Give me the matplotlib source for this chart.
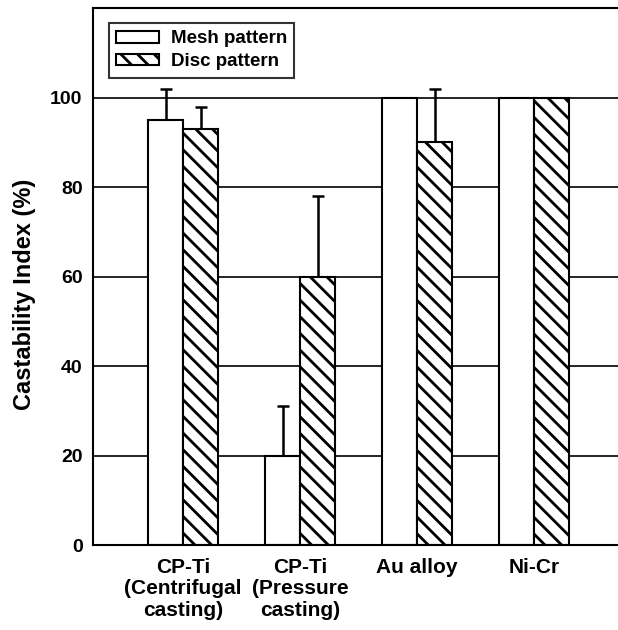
import numpy as np
import matplotlib.pyplot as plt

# data
groups = ["CP-Ti\n(Centrifugal\ncasting)", "CP-Ti\n(Pressure\ncasting)", "Au alloy", "Ni-Cr"]
mesh = [95, 20, 100, 100]
mesh_err = [7, 11, 0, 0]
disc = [93, 60, 90, 100]
disc_err = [5, 18, 12, 0]

plt.rcParams['font.family'] = ['Liberation Sans', 'DejaVu Sans']
plt.rcParams['font.weight'] = 'bold'
plt.rcParams['hatch.linewidth'] = 2.0

fig = plt.figure(figsize=(6.18, 6.3), dpi=100)
ax = fig.add_axes([0.1505, 0.1349, 0.85, 0.852])

x = np.arange(len(groups))
w = 0.30

# horizontal grid behind bars
for yv in [20, 40, 60, 80, 100]:
    ax.axhline(yv, color='black', lw=1.2, zorder=0)

ax.bar(x - w/2, mesh, w, color='white', edgecolor='black', lw=1.5,
       label='Mesh pattern', zorder=2)
ax.bar(x + w/2, disc, w, color='white', edgecolor='black', lw=1.5,
       hatch='\\\\', label='Disc pattern', zorder=2)

# upper error bars only
me = np.array(mesh_err)
de = np.array(disc_err)
ax.errorbar((x - w/2)[me > 0], np.array(mesh)[me > 0], yerr=[np.zeros((me > 0).sum()), me[me > 0]],
            fmt='none', ecolor='black', elinewidth=1.8, capsize=4.5, capthick=1.8, zorder=1)
ax.errorbar((x + w/2)[de > 0], np.array(disc)[de > 0], yerr=[np.zeros((de > 0).sum()), de[de > 0]],
            fmt='none', ecolor='black', elinewidth=1.8, capsize=4.5, capthick=1.8, zorder=1)

ax.set_xlim(-0.77, 3.72)
ax.set_ylim(0, 120)
ax.set_yticks([0, 20, 40, 60, 80, 100])
ax.set_xticks(x)
ax.set_xticklabels(groups, fontsize=15, fontweight='bold', linespacing=1.18)
ax.tick_params(axis='y', length=0, labelsize=14, pad=7.5)
ax.tick_params(axis='x', length=0, pad=9)
ax.set_ylabel("Castability Index (%)", fontsize=17, fontweight='bold')
ax.yaxis.set_label_coords(-0.108, 0.467)

for s in ['left', 'bottom', 'top']:
    ax.spines[s].set_linewidth(1.5)
ax.spines['right'].set_visible(False)

leg = ax.legend(loc='upper left', bbox_to_anchor=(0.012, 0.99), fontsize=13.5,
                frameon=True, fancybox=False, edgecolor='black',
                handlelength=2.3, handleheight=0.6, handletextpad=0.6,
                borderpad=0.4, labelspacing=0.3)
leg.get_frame().set_linewidth(1.5)
for t in leg.get_texts():
    t.set_fontweight('bold')

fig.savefig("out.png", dpi=100)
